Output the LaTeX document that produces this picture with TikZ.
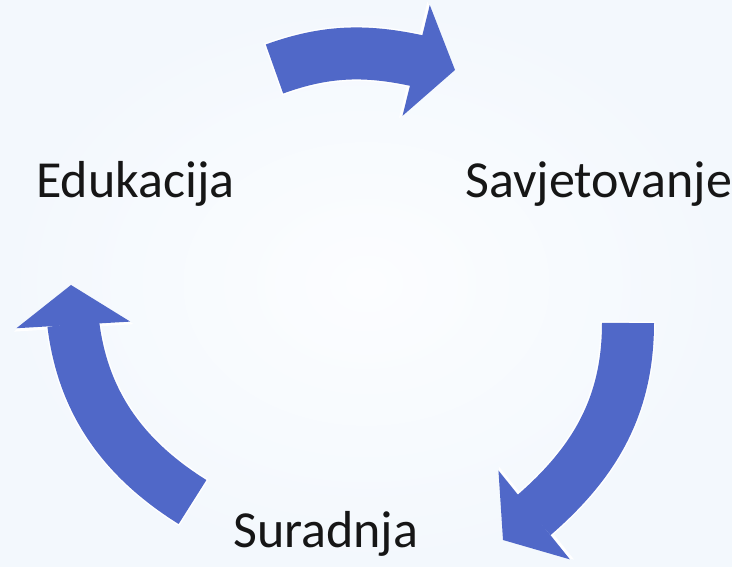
\documentclass[tikz,border=0pt]{standalone}
\usepackage{fontspec}
\setmainfont{Carlito}
\usetikzlibrary{arrows.meta,bending}
\definecolor{arrowblue}{RGB}{80,104,200}
\definecolor{bgouter}{RGB}{243,248,253}
\definecolor{bginner}{RGB}{252,253,255}
\definecolor{textgray}{RGB}{22,22,22}

\begin{document}
\begin{tikzpicture}[x=1pt,y=1pt,
    stagetext/.style={inner sep=0pt,anchor=base west,text=textgray,
      font=\fontsize{52}{62}\selectfont},
    cyclearrow/.style={draw=arrowblue,line width=52pt,
      -{Triangle[width=114pt,length=40pt,line width=0pt]},
      preaction={draw=white,line width=55pt,shorten <=-1.5pt,
        -{Triangle[width=120pt,length=43pt,line width=0pt]}}}]
      \useasboundingbox (0,0) rectangle (732,567);
      \shade[inner color=bginner,outer color=bgouter] (0,0) rectangle (732,567);

      \node[stagetext] (edu) at (36,369.3) {Edukacija};
      \node[stagetext] (sav) at (465,369.3) {Savjetovanje};
      \node[stagetext] (sur) at (233,19) {Suradnja};

      \coordinate (t1) at (274.5,498);
      \coordinate (t2) at (455,497);
      \coordinate (r1) at (628,244);
      \coordinate (r2) at (503,27);
      \coordinate (l1) at (192.5,65);
      \coordinate (l2) at (71,282);

      \draw[cyclearrow] (t1) to[out=20,in=165] (t2);
      \draw[cyclearrow] (r1) to[out=-90,in=37] (r2);
      \draw[cyclearrow] (l1) to[out=148,in=-90] (l2);
\end{tikzpicture}
\end{document}
